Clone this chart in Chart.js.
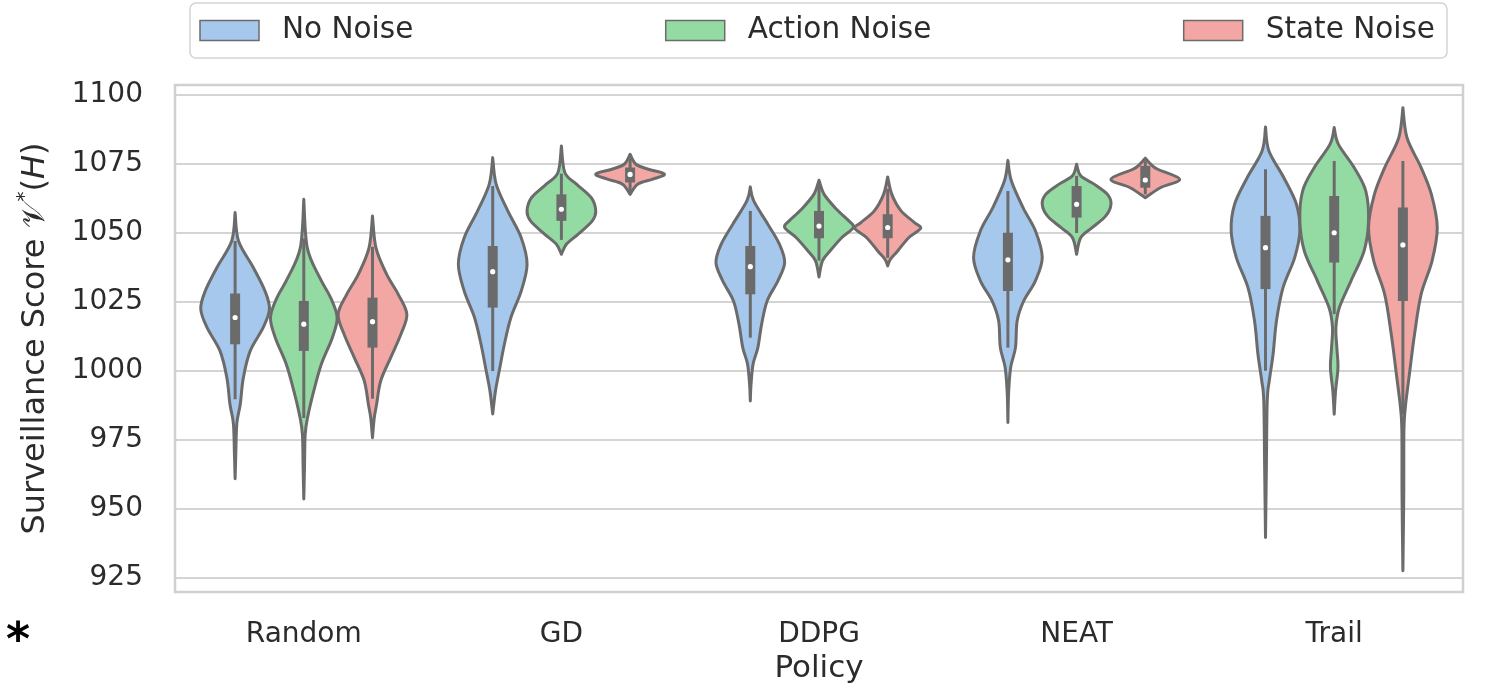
<!DOCTYPE html>
<html>
<head>
<meta charset="utf-8">
<script src="https://cdn.jsdelivr.net/npm/chart.js@4.4.1/dist/chart.umd.min.js"></script>
<style>
  html, body { margin: 0; padding: 0; background: #fff; }
</style>
</head>
<body>
<canvas id="violinChart" width="1493" height="688"></canvas>
<script>
const policies = ["Random", "GD", "DDPG", "NEAT", "Trail"];
const noiseLabels = ["No Noise", "Action Noise", "State Noise"];
const yTicks = [925, 950, 975, 1000, 1025, 1050, 1075, 1100];

// violin outlines: [score, relative half width], top to bottom
const noNoiseShapes = [
  [[1057.4, 0], [1047.1, 0.1], [1037.5, 0.53], [1029, 0.87], [1022.5, 1.0], [1015.8, 0.82], [1007.3, 0.44], [997.6, 0.24], [988, 0.15], [981, 0.05], [970, 0.02], [961, 0]],
  [[1077.3, 0], [1067.7, 0.1], [1058, 0.44], [1048.3, 0.83], [1038.7, 1.0], [1029, 0.83], [1019.4, 0.53], [1009.7, 0.34], [1000.1, 0.19], [992.8, 0.08], [984.5, 0]],
  [[1066.7, 0], [1061.6, 0.1], [1053.2, 0.51], [1045.9, 0.85], [1039.3, 1.0], [1032.6, 0.8], [1025.4, 0.49], [1017, 0.33], [1008.5, 0.22], [1002.5, 0.08], [995, 0.02], [989.2, 0]],
  [[1076.3, 0], [1068.9, 0.1], [1059.2, 0.44], [1050.8, 0.8], [1041.1, 1.0], [1032.7, 0.8], [1025.4, 0.46], [1018.2, 0.27], [1008.5, 0.22], [1001.3, 0.08], [992, 0.02], [981.4, 0]],
  [[1088.4, 0], [1079.7, 0.1], [1070.1, 0.53], [1060.4, 0.9], [1050.8, 1.0], [1041.1, 0.85], [1030.2, 0.51], [1018.2, 0.32], [1006.1, 0.22], [996.5, 0.11], [989.2, 0.05], [965, 0.025], [939.7, 0]]
];
const actionNoiseShapes = [
  [[1062.2, 0], [1044.7, 0.1], [1033.9, 0.46], [1026.6, 0.78], [1019.4, 0.97], [1012.1, 0.83], [1002.5, 0.51], [992.8, 0.29], [983.2, 0.11], [977, 0.04], [965, 0.02], [953.7, 0]],
  [[1081.5, 0], [1071.9, 0.1], [1067.7, 0.44], [1062.8, 0.87], [1058, 1.0], [1054.4, 0.9], [1049.6, 0.49], [1046, 0.15], [1042.3, 0]],
  [[1069.1, 0], [1064, 0.15], [1058.6, 0.51], [1054.4, 0.87], [1052, 1.0], [1048.3, 0.66], [1043.5, 0.32], [1039.9, 0.1], [1034.1, 0]],
  [[1074.9, 0], [1070.7, 0.12], [1067.7, 0.51], [1064, 0.9], [1060.4, 1.0], [1056.2, 0.85], [1052, 0.46], [1048.3, 0.12], [1042.3, 0]],
  [[1088.2, 0], [1082.2, 0.12], [1073.7, 0.58], [1065.2, 0.92], [1054.4, 1.0], [1043.5, 0.87], [1032.7, 0.49], [1023, 0.15], [1015.8, 0.05], [1008, 0.08], [1001.3, 0.11], [992.8, 0.04], [984.4, 0]]
];
const stateNoiseShapes = [
  [[1056.2, 0], [1044.7, 0.1], [1035.1, 0.41], [1027.8, 0.75], [1020.6, 1.0], [1013.4, 0.83], [1004.9, 0.53], [996.5, 0.24], [988, 0.12], [983, 0.05], [975.9, 0]],
  [[1078.5, 0], [1074.9, 0.17], [1073.1, 0.53], [1071.3, 1.0], [1069.5, 0.66], [1067.7, 0.22], [1064, 0]],
  [[1070.3, 0], [1064, 0.12], [1058, 0.39], [1053.8, 0.78], [1051.7, 0.96], [1048.3, 0.61], [1043.5, 0.29], [1040.5, 0.08], [1038.1, 0]],
  [[1077.1, 0], [1075, 0.15], [1073.1, 0.36], [1069.5, 1.0], [1066.4, 0.44], [1062.8, 0]],
  [[1095.4, 0], [1084.5, 0.12], [1073.7, 0.53], [1064, 0.83], [1052, 1.0], [1039.9, 0.85], [1027.8, 0.53], [1013.4, 0.34], [998.9, 0.19], [986.8, 0.07], [978.3, 0.03], [955, 0.025], [927.7, 0]]
];

// inner box: [whisker low, q1, median, q3, whisker high]
const noNoiseBoxes = [
  [989.8, 1009.7, 1019.4, 1028.1, 1047.1],
  [1000, 1023, 1036, 1045.3, 1067],
  [1012.1, 1027.8, 1037.8, 1045.3, 1058],
  [1008.5, 1029, 1040.3, 1050.1, 1065.2],
  [1000.1, 1029.7, 1044.7, 1056.2, 1073.1]
];
const actionNoiseBoxes = [
  [983, 1007.3, 1017, 1025.4, 1048],
  [1047.5, 1054.4, 1058.6, 1064, 1071.5],
  [1040, 1048.1, 1052.5, 1058, 1067],
  [1050, 1055.6, 1060.4, 1067, 1070.7],
  [1020.6, 1039.3, 1050.1, 1063.4, 1076.1]
];
const stateNoiseBoxes = [
  [990, 1008.5, 1017.9, 1026.6, 1045],
  [1065, 1068.3, 1071.2, 1073.7, 1077],
  [1041, 1048.1, 1052, 1056.8, 1066],
  [1064, 1066.4, 1069.2, 1074.3, 1076],
  [984.4, 1025.4, 1045.7, 1059.2, 1076.1]
];

const fills = ["#a6c8ec", "#93dba3", "#f2a7a4"];
const lineGray = "#6b6b6b";
const textColor = "#2b2b2b";
const fontFamily = "'DejaVu Sans', sans-serif";
const hueStep = 0.8 / 3;

function curveThrough(ctx, pts) {
	for (let i = 0; i < pts.length - 1; i++) {
		const p0 = pts[Math.max(i - 1, 0)];
		const p1 = pts[i];
		const p2 = pts[i + 1];
		const p3 = pts[Math.min(i + 2, pts.length - 1)];
		ctx.bezierCurveTo(
			p1[0] + (p2[0] - p0[0]) / 6, p1[1] + (p2[1] - p0[1]) / 6,
			p2[0] - (p3[0] - p1[0]) / 6, p2[1] - (p3[1] - p1[1]) / 6,
			p2[0], p2[1]
		);
	}
}

const violinPlugin = {
	id: "violins",
	beforeDatasetsDraw(chart) {
		const { ctx, chartArea: a } = chart;
		ctx.save();
		ctx.strokeStyle = "#d0d0d0";
		ctx.lineWidth = 2.5;
		ctx.strokeRect(a.left, a.top, a.right - a.left, a.bottom - a.top);
		ctx.restore();
	},
	afterDatasetsDraw(chart) {
		const { ctx, scales: { x, y } } = chart;
		ctx.save();
		chart.data.datasets.forEach((ds, k) => {
			ds.shapes.forEach((shape, i) => {
				const pos = i + (k - 1) * hueStep;
				const cx = x.getPixelForValue(pos);
				const hw = x.getPixelForValue(pos + hueStep / 2) - cx;
				const right = shape.map((p) => [cx + p[1] * hw, y.getPixelForValue(p[0])]);
				const left = shape.map((p) => [cx - p[1] * hw, y.getPixelForValue(p[0])]).reverse();

				ctx.beginPath();
				ctx.moveTo(right[0][0], right[0][1]);
				curveThrough(ctx, right);
				curveThrough(ctx, left);
				ctx.closePath();
				ctx.fillStyle = ds.backgroundColor;
				ctx.fill();
				ctx.lineWidth = 3;
				ctx.lineJoin = "round";
				ctx.strokeStyle = lineGray;
				ctx.stroke();

				const b = ds.boxes[i];
				ctx.strokeStyle = lineGray;
				ctx.lineCap = "butt";
				ctx.lineWidth = 3;
				ctx.beginPath();
				ctx.moveTo(cx, y.getPixelForValue(b[0]));
				ctx.lineTo(cx, y.getPixelForValue(b[4]));
				ctx.stroke();
				ctx.lineWidth = 10;
				ctx.beginPath();
				ctx.moveTo(cx, y.getPixelForValue(b[1]));
				ctx.lineTo(cx, y.getPixelForValue(b[3]));
				ctx.stroke();
				ctx.fillStyle = "#ffffff";
				ctx.beginPath();
				ctx.arc(cx, y.getPixelForValue(b[2]), 2.6, 0, Math.PI * 2);
				ctx.fill();
			});
		});
		ctx.restore();
	},
	afterDraw(chart) {
		const { ctx, chartArea: a } = chart;
		ctx.save();

		// legend frame and entries spread across the plot width
		const boxL = a.left + 15, boxR = a.right - 16, boxT = 3, boxB = 58;
		ctx.beginPath();
		ctx.roundRect(boxL, boxT, boxR - boxL, boxB - boxT, 6);
		ctx.fillStyle = "#ffffff";
		ctx.fill();
		ctx.strokeStyle = "#d4d4d4";
		ctx.lineWidth = 1.5;
		ctx.stroke();

		ctx.font = "29.5px " + fontFamily;
		ctx.textBaseline = "middle";
		ctx.textAlign = "left";
		const widths = chart.data.datasets.map((ds) => 59 + 23 + ctx.measureText(ds.label).width);
		const innerL = boxL + 10, innerR = boxR - 12;
		const gap = (innerR - innerL - widths.reduce((s, w) => s + w, 0)) / (widths.length - 1);
		let lx = innerL;
		chart.data.datasets.forEach((ds, k) => {
			ctx.fillStyle = ds.backgroundColor;
			ctx.fillRect(lx, 20.5, 59, 20);
			ctx.strokeStyle = lineGray;
			ctx.lineWidth = 1.5;
			ctx.strokeRect(lx, 20.5, 59, 20);
			ctx.fillStyle = textColor;
			ctx.fillText(ds.label, lx + 82, 30.5);
			lx += widths[k] + gap;
		});

		// y axis title with script V and superscript star
		ctx.translate(36, (a.top + a.bottom) / 2);
		ctx.rotate(-Math.PI / 2);
		const parts = [
			{ t: "Surveillance Score ", f: "32px " + fontFamily, dy: 0 },
			{ t: "\u{1D4B1}", f: "32px " + fontFamily, dy: 0 },
			{ t: "*", f: "20px " + fontFamily, dy: -11 },
			{ t: "(", f: "32px " + fontFamily, dy: 0 },
			{ t: "H", f: "italic 32px " + fontFamily, dy: 0 },
			{ t: ")", f: "32px " + fontFamily, dy: 0 }
		];
		let total = 0;
		parts.forEach((p) => { ctx.font = p.f; p.w = ctx.measureText(p.t).width; total += p.w; });
		let tx = -total / 2;
		ctx.fillStyle = textColor;
		ctx.textBaseline = "middle";
		parts.forEach((p) => { ctx.font = p.f; ctx.fillText(p.t, tx, p.dy); tx += p.w; });
		ctx.restore();

		ctx.save();
		ctx.font = "bold 46px " + fontFamily;
		ctx.fillStyle = "#000000";
		ctx.textAlign = "center";
		ctx.textBaseline = "alphabetic";
		ctx.fillText("*", 18, 655);
		ctx.restore();
	}
};

const medians = (boxes) => boxes.map((b) => b[2]);

new Chart(document.getElementById("violinChart"), {
	type: "line",
	data: {
		labels: policies,
		datasets: [
			{ label: noiseLabels[0], data: medians(noNoiseBoxes), shapes: noNoiseShapes, boxes: noNoiseBoxes, backgroundColor: fills[0], showLine: false, pointRadius: 0 },
			{ label: noiseLabels[1], data: medians(actionNoiseBoxes), shapes: actionNoiseShapes, boxes: actionNoiseBoxes, backgroundColor: fills[1], showLine: false, pointRadius: 0 },
			{ label: noiseLabels[2], data: medians(stateNoiseBoxes), shapes: stateNoiseShapes, boxes: stateNoiseBoxes, backgroundColor: fills[2], showLine: false, pointRadius: 0 }
		]
	},
	options: {
		responsive: false,
		animation: false,
		devicePixelRatio: 1,
		layout: { padding: { left: 0, right: 30, top: 85, bottom: 0 } },
		plugins: {
			legend: { display: false },
			tooltip: { enabled: false }
		},
		scales: {
			x: {
				offset: true,
				grid: { display: false, drawTicks: false },
				border: { display: false },
				ticks: { color: textColor, font: { family: fontFamily, size: 28 }, padding: 26 },
				title: { display: true, text: "Policy", color: textColor, font: { family: fontFamily, size: 31 }, padding: { top: 0, bottom: 0 } },
				afterFit(scale) { scale.height = 96; }
			},
			y: {
				min: 920,
				max: 1103.6,
				afterBuildTicks(scale) { scale.ticks = yTicks.map((v) => ({ value: v })); },
				grid: { color: "#d4d4d4", lineWidth: 2, drawTicks: false },
				border: { display: false },
				ticks: {
					color: textColor,
					font: { family: fontFamily, size: 28 },
					padding: 32,
					callback: function (value) {
						return String(value);
					}
				},
				afterFit(scale) { scale.width = 175; }
			}
		}
	},
	plugins: [violinPlugin]
});
</script>
</body>
</html>
